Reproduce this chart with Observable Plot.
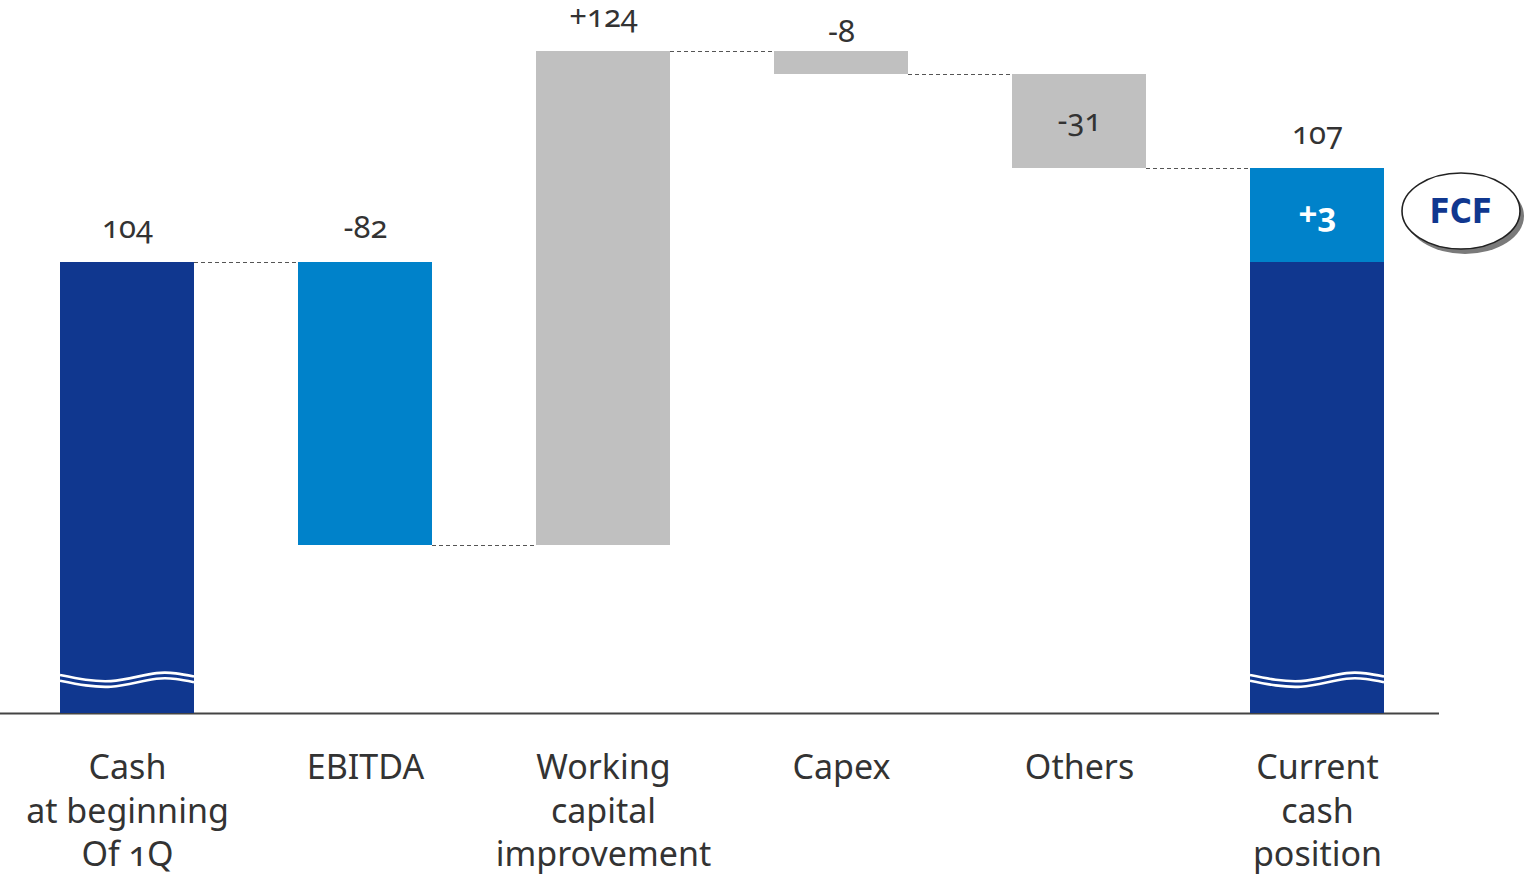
<!DOCTYPE html>
<html><head><meta charset="utf-8">
<script src="https://cdn.jsdelivr.net/npm/d3@7"></script>
<script src="https://cdn.jsdelivr.net/npm/@observablehq/plot@0.6"></script>
<style>
html,body{margin:0;padding:0;background:#fff;}
#chart svg{display:block;}
</style>
</head><body><div id="chart"></div>
<script>
// ---- data ----
const categories = ["Cash\nat beginning\nOf 1Q", "EBITDA", "Working\ncapital\nimprovement", "Capex", "Others", "Current\ncash\nposition"];
const startCash = 104;
const changeNames = ["EBITDA", "Working capital improvement", "Capex", "Others"];
const changes = [-82, 124, -8, -31];
const currentCash = 107;
const fcf = 3;

// ---- colours ----
const darkBlue = "#10378f", lightBlue = "#0082ca", grey = "#c0c0c0", textColor = "#333333";

// ---- build waterfall rows ----
const bars = [];
bars.push({cat: categories[0], y1: 0, y2: startCash, fill: darkBlue, value: startCash});
let level = startCash;
const levels = [startCash];
changes.forEach((d, i) => {
  bars.push({cat: categories[i + 1], y1: level, y2: level + d, fill: i === 0 ? lightBlue : grey, value: d});
  level += d;
  levels.push(level);
});
const lastCat = categories[categories.length - 1];
bars.push({cat: lastCat, y1: 0, y2: currentCash - fcf, fill: darkBlue, value: currentCash});
bars.push({cat: lastCat, y1: currentCash - fcf, y2: currentCash, fill: lightBlue, value: fcf});

const connectors = levels.map((v, i) => ({x1: categories[i], x2: categories[i + 1], y: v}));

const fmtDelta = d => (d > 0 ? "+" : "") + d;
const labelRows = [
  {cat: categories[0], y: startCash, text: String(startCash), pos: "above"},
  ...changes.map((d, i) => {
    const b = bars[i + 1];
    const top = Math.max(b.y1, b.y2), mid = (b.y1 + b.y2) / 2;
    const pos = changeNames[i] === "Others" ? "inside" : (Math.abs(d) < 10 ? "near" : "above");
    return {cat: categories[i + 1], y: pos === "inside" ? mid : top, text: fmtDelta(d), pos};
  }),
  {cat: lastCat, y: currentCash, text: String(currentCash), pos: "above"}
];
const fcfLabel = [{cat: lastCat, y: currentCash - fcf / 2, text: fmtDelta(fcf)}];

// broken, non-proportional value axis (as in the original): piecewise warp applied as a scale transform
const yKnots = [0, ...Array.from(new Set([...levels, currentCash - fcf])).sort((a, b) => a - b)];
const yPixels = [713, 545, 262, 168, 74, 51];
const yWarp = d3.scaleLinear().domain(yKnots).range(yPixels);
const breakValue = 4.4;

const plot = Plot.plot({
  width: 1524,
  height: 874,
  marginTop: 0, marginRight: 0, marginLeft: 0, marginBottom: 161,
  style: {fontFamily: "'Noto Sans', 'Open Sans', sans-serif", fontVariantNumeric: "oldstyle-nums", background: "#fff"},
  x: {domain: categories, range: [59, 1384], paddingInner: 0.437, paddingOuter: 0, axis: null},
  y: {transform: yWarp, domain: [0, 874], range: [0, 874], axis: null},
  marks: [
    Plot.ruleY([0], {stroke: "#444", strokeWidth: 2, insetRight: 85}),
    Plot.ruleY(connectors, {x1: "x1", x2: "x2", y: "y", stroke: "#555", strokeWidth: 1, strokeDasharray: "4,3", insetLeft: 134, insetRight: 134}),
    Plot.barY(bars, {x: "cat", y1: "y1", y2: "y2", fill: "fill"}),
    Plot.text(labelRows.filter(d => d.pos === "above"), {x: "cat", y: "y", text: "text", lineAnchor: "bottom", dy: -25, fontSize: 31, fill: textColor}),
    Plot.text(labelRows.filter(d => d.pos === "near"), {x: "cat", y: "y", text: "text", lineAnchor: "bottom", dy: -10, fontSize: 31, fill: textColor}),
    Plot.text(labelRows.filter(d => d.pos === "inside"), {x: "cat", y: "y", text: "text", lineAnchor: "middle", fontSize: 31, fill: textColor}),
    Plot.text(fcfLabel, {x: "cat", y: "y", text: "text", lineAnchor: "middle", fontSize: 33, fontWeight: "bold", fill: "#fff"}),
    Plot.axisX({tickSize: 0, tickPadding: 34, fontSize: 34, lineHeight: 1.29, color: textColor, label: null})
  ]
});
document.getElementById("chart").appendChild(plot);

// ---- axis-break waves and FCF badge, positioned with the plot's own scales ----
const svg = d3.select(plot);
const xs = plot.scale("x"), ys = plot.scale("y");
const bw = xs.bandwidth;
const yPos = v => ys.apply(yWarp(v));
const waveShape = [[0, -1.5], [0.38, 4.5], [0.72, -3.5], [1, 0]];
const line = d3.line().curve(d3.curveNatural);
[categories[0], lastCat].forEach(c => {
  const x0 = xs.apply(c), y0 = yPos(breakValue);
  [-2.8, 2.8].forEach(off => {
    svg.append("path")
      .attr("d", line(waveShape.map(([u, v]) => [x0 + u * bw, y0 + off + v])))
      .attr("fill", "none").attr("stroke", "#fff").attr("stroke-width", 2.6);
  });
});
const cx = xs.apply(lastCat) + bw + 77, cy = yPos(currentCash - fcf / 2) - 4;
svg.append("ellipse").attr("cx", cx + 4).attr("cy", cy + 5).attr("rx", 59).attr("ry", 38).attr("fill", "#7a7a7a");
svg.append("ellipse").attr("cx", cx).attr("cy", cy).attr("rx", 59).attr("ry", 38).attr("fill", "#fff").attr("stroke", "#222").attr("stroke-width", 1.6);
svg.append("text").attr("x", cx).attr("y", cy).attr("text-anchor", "middle").attr("dy", "0.36em")
  .attr("font-family", "'DejaVu Sans Condensed', 'DejaVu Sans', sans-serif").attr("font-stretch", "condensed")
  .attr("font-weight", "bold").attr("font-size", 33).attr("fill", darkBlue).text("FCF");
</script>
</body></html>
